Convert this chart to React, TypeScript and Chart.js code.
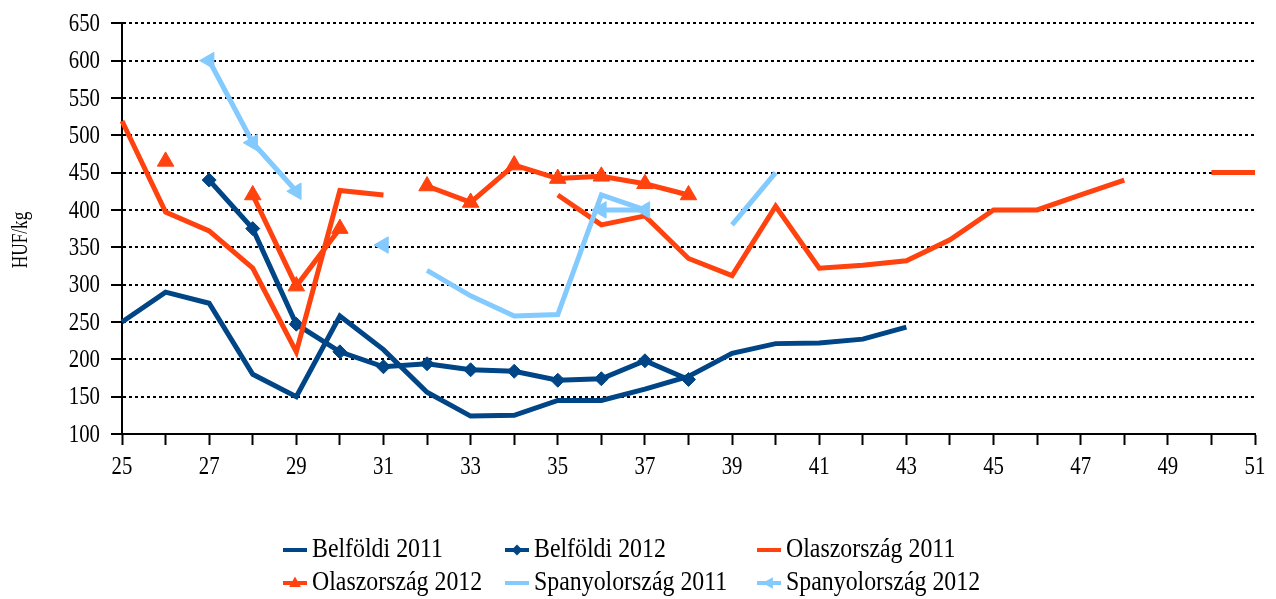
import { useEffect, useRef } from 'react';
import { Chart, registerables } from 'chart.js';

Chart.register(...registerables);

const weeks = ['25','26','27','28','29','30','31','32','33','34','35','36','37','38','39','40','41','42','43','44','45','46','47','48','49','50','51'];

const belfoldi2011 = [250,290,275,180,150,258,213,156,124,125,145,145,160,177,208,221,222,227,243,null,null,null,null,null,null,null,null];
const belfoldi2012 = [null,null,440,375,247,210,190,194,186,184,172,174,198,173,null,null,null,null,null,null,null,null,null,null,null,null,null];
const olasz2011 = [519,397,372,322,210,426,420,null,null,null,420,380,392,335,312,405,322,326,332,360,400,400,420,440,null,450,450];
const olasz2012 = [null,465,null,420,298,375,null,432,410,460,442,445,435,420,null,null,null,null,null,null,null,null,null,null,null,null,null];
const spany2011 = [null,null,null,null,null,null,null,319,285,258,260,420,400,null,380,450,null,null,null,null,null,null,null,null,null,null,null];
const spany2012 = [null,null,600,490,425,null,353,null,null,null,null,400,400,null,null,null,null,null,null,null,null,null,null,null,null,null,null];

const seriesNames = ['Belföldi 2011','Belföldi 2012','Olaszország 2011','Olaszország 2012','Spanyolország 2011','Spanyolország 2012'];
const seriesValues = [belfoldi2011, belfoldi2012, olasz2011, olasz2012, spany2011, spany2012];
const seriesColors = ['#004586','#004586','#ff420e','#ff420e','#83caff','#83caff'];
const seriesMarkers: (string | false)[] = [false,'rectRot',false,'triangle',false,'triangle'];
const seriesMarkerRotation = [0,0,0,0,0,-90];
const seriesMarkerRadius = [0,7,0,9.5,0,9.5];

const yTitle = 'HUF/kg';
const FONT = "'Liberation Serif', 'Times New Roman', serif";

const legendCols = [283, 505, 757];
const legendRows = [550, 583];

function drawText(ctx: CanvasRenderingContext2D, text: string, x: number, y: number, size: number, sx: number, align: CanvasTextAlign) {
  ctx.save();
  ctx.font = `${size}px ${FONT}`;
  ctx.fillStyle = '#000';
  ctx.textBaseline = 'middle';
  ctx.textAlign = align;
  ctx.translate(x, y);
  ctx.scale(sx, 1);
  ctx.fillText(text, 0, 0);
  ctx.restore();
}

function drawMarker(ctx: CanvasRenderingContext2D, style: string, rot: number, x: number, y: number, r: number, color: string) {
  ctx.save();
  ctx.translate(x, y);
  ctx.rotate((rot * Math.PI) / 180);
  ctx.fillStyle = color;
  ctx.beginPath();
  if (style === 'rectRot') {
    ctx.moveTo(0, -r); ctx.lineTo(r, 0); ctx.lineTo(0, r); ctx.lineTo(-r, 0);
  } else {
    ctx.moveTo(0, -r); ctx.lineTo(r * 0.9, r * 0.6); ctx.lineTo(-r * 0.9, r * 0.6);
  }
  ctx.closePath();
  ctx.fill();
  ctx.restore();
}

const decorPlugin = {
  id: 'decor',
  afterDraw(chart: any) {
    const ctx: CanvasRenderingContext2D = chart.ctx;
    const xs = chart.scales.x;
    const ys = chart.scales.y;
    // axis tick labels (condensed serif, as in the original)
    xs.ticks.forEach((_t: any, i: number) => {
      if (i % 2 !== 0) return;
      drawText(ctx, weeks[i], xs.getPixelForTick(i), 467, 26, 0.8, 'center');
    });
    ys.ticks.forEach((t: any) => {
      drawText(ctx, String(t.value), 100, ys.getPixelForValue(t.value) + 1, 26, 0.8, 'right');
    });
    // y axis title
    ctx.save();
    ctx.translate(21, 240);
    ctx.rotate(-Math.PI / 2);
    drawText(ctx, yTitle, 0, 0, 23, 0.75, 'center');
    ctx.restore();
    // legend
    chart.data.datasets.forEach((ds: any, i: number) => {
      const x = legendCols[i % 3];
      const y = legendRows[Math.floor(i / 3)];
      ctx.save();
      ctx.strokeStyle = seriesColors[i];
      ctx.lineWidth = 4;
      ctx.beginPath();
      ctx.moveTo(x, y);
      ctx.lineTo(x + 24, y);
      ctx.stroke();
      ctx.restore();
      const m = seriesMarkers[i];
      if (m) drawMarker(ctx, m, seriesMarkerRotation[i], x + 12, y, m === 'rectRot' ? 5.5 : 6.5, seriesColors[i]);
      drawText(ctx, ds.label, x + 29, y, 26.5, 0.9, 'left');
    });
  },
};

export default function App() {
  const ref = useRef<HTMLCanvasElement>(null);
  useEffect(() => {
    if (!ref.current) return;
    const chart = new Chart(ref.current, {
      type: 'line',
      data: {
        labels: weeks,
        datasets: seriesNames.map((name, i) => ({
          label: name,
          data: seriesValues[i],
          borderColor: seriesColors[i],
          backgroundColor: seriesColors[i],
          borderWidth: 5,
          pointStyle: seriesMarkers[i] as any,
          pointRadius: seriesMarkerRadius[i],
          pointRotation: seriesMarkerRotation[i],
          pointBackgroundColor: seriesColors[i],
          pointBorderColor: seriesColors[i],
          pointBorderWidth: 1,
          pointHoverRadius: seriesMarkerRadius[i],
          spanGaps: false,
          tension: 0,
          fill: false,
          order: 5 - i,
        })),
      },
      options: {
        responsive: false,
        animation: false,
        layout: { padding: { left: 0, top: 20, right: 21, bottom: 0 } },
        plugins: { legend: { display: false }, tooltip: { enabled: false } },
        scales: {
          x: {
            type: 'category',
            offset: false,
            afterFit: (scale: any) => { scale.height = 165; },
            grid: { display: true, drawOnChartArea: false, drawTicks: true, tickLength: 11, tickWidth: 2, tickColor: '#000', color: '#000' },
            border: { display: true, color: '#000', width: 2 },
            ticks: {
              autoSkip: false,
              maxRotation: 0,
              padding: 9,
              color: 'rgba(0,0,0,0)',
              font: { family: FONT, size: 22 },
              callback: (_v: any, idx: number) => (idx % 2 === 0 ? weeks[idx] : ''),
            },
          },
          y: {
            min: 100,
            max: 650,
            afterFit: (scale: any) => { scale.width = 122; },
            grid: { display: true, color: '#000', lineWidth: 2, drawTicks: true, tickLength: 11, tickWidth: 2, tickColor: '#000', tickBorderDash: [] },
            border: { display: true, color: '#000', width: 2, dash: [3, 3] },
            ticks: { stepSize: 50, padding: 10, color: 'rgba(0,0,0,0)', font: { family: FONT, size: 22 } },
          },
        },
      } as any,
      plugins: [decorPlugin],
    });
    return () => chart.destroy();
  }, []);
  return (
    <div style={{ position: 'fixed', left: 0, top: 0, width: 1276, height: 599, background: '#fff' }}>
      <canvas ref={ref} width={1276} height={599} />
    </div>
  );
}
